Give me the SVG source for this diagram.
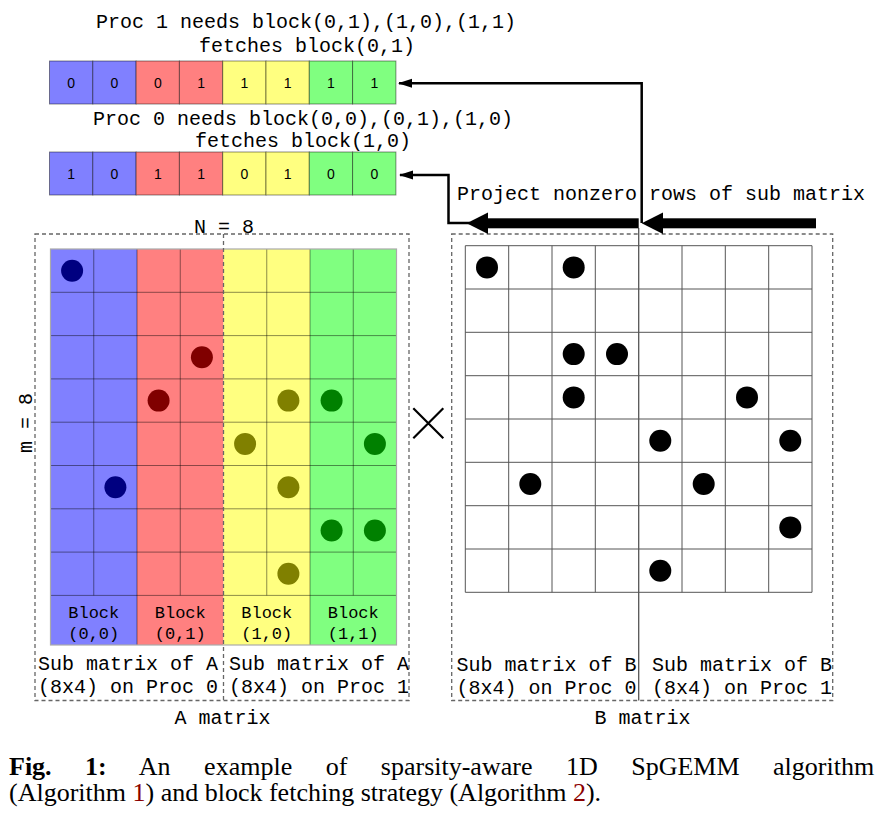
<svg xmlns="http://www.w3.org/2000/svg" width="895" height="838" viewBox="0 0 895 838">
<style>
.mono{font-family:"Liberation Mono","Courier New",monospace;font-size:20px;fill:#000}
.blk{font-family:"Liberation Mono","Courier New",monospace;font-size:17px;fill:#000;text-anchor:middle}
.dig{font-family:"Liberation Sans",Arial,sans-serif;font-size:14px;fill:#000;text-anchor:middle}
.cap{font-family:"Liberation Serif","Times New Roman",serif;font-size:26px;fill:#000}
.cell{stroke:rgba(0,0,0,0.45);stroke-width:1}
.gl{stroke:rgba(0,0,0,0.45);stroke-width:1;fill:none}
.bg{stroke:#555;stroke-width:1;fill:none}
.dash{fill:none;stroke:#666;stroke-width:1.3;stroke-dasharray:4 3}
.thin{fill:none;stroke:#000;stroke-width:2.5}
.blue{fill:#8080ff}.red{fill:#ff8080}.yel{fill:#ffff80}.grn{fill:#80ff80}
.rl{fill:#8b0000}
</style>
<defs>
<marker id="ah" markerWidth="14" markerHeight="10" refX="13" refY="5" orient="auto" markerUnits="userSpaceOnUse">
<polygon points="0,0.5 14,5 0,9.5" fill="#000"/>
</marker>
</defs>

<g id="proc1-array">
<text class="mono" x="306" y="28" text-anchor="middle">Proc 1 needs block(0,1),(1,0),(1,1)</text>
<text class="mono" x="307" y="51.5" text-anchor="middle">fetches block(0,1)</text>
<rect class="blue cell" x="49.5" y="61" width="43.3" height="43"/>
<rect class="blue cell" x="92.8" y="61" width="43.3" height="43"/>
<rect class="red cell" x="136.1" y="61" width="43.3" height="43"/>
<rect class="red cell" x="179.4" y="61" width="43.3" height="43"/>
<rect class="yel cell" x="222.7" y="61" width="43.3" height="43"/>
<rect class="yel cell" x="266" y="61" width="43.3" height="43"/>
<rect class="grn cell" x="309.3" y="61" width="43.3" height="43"/>
<rect class="grn cell" x="352.6" y="61" width="43.3" height="43"/>
<text class="dig" x="71.2" y="88">0</text>
<text class="dig" x="114.5" y="88">0</text>
<text class="dig" x="157.8" y="88">0</text>
<text class="dig" x="201.1" y="88">1</text>
<text class="dig" x="244.4" y="88">1</text>
<text class="dig" x="287.7" y="88">1</text>
<text class="dig" x="331" y="88">1</text>
<text class="dig" x="374.3" y="88">1</text>
</g>

<g id="proc0-array">
<text class="mono" x="303" y="125" text-anchor="middle">Proc 0 needs block(0,0),(0,1),(1,0)</text>
<text class="mono" x="303" y="147" text-anchor="middle">fetches block(1,0)</text>
<rect class="blue cell" x="49.5" y="152" width="43.3" height="43"/>
<rect class="blue cell" x="92.8" y="152" width="43.3" height="43"/>
<rect class="red cell" x="136.1" y="152" width="43.3" height="43"/>
<rect class="red cell" x="179.4" y="152" width="43.3" height="43"/>
<rect class="yel cell" x="222.7" y="152" width="43.3" height="43"/>
<rect class="yel cell" x="266" y="152" width="43.3" height="43"/>
<rect class="grn cell" x="309.3" y="152" width="43.3" height="43"/>
<rect class="grn cell" x="352.6" y="152" width="43.3" height="43"/>
<text class="dig" x="71.2" y="179">1</text>
<text class="dig" x="114.5" y="179">0</text>
<text class="dig" x="157.8" y="179">1</text>
<text class="dig" x="201.1" y="179">1</text>
<text class="dig" x="244.4" y="179">0</text>
<text class="dig" x="287.7" y="179">1</text>
<text class="dig" x="331" y="179">0</text>
<text class="dig" x="374.3" y="179">0</text>
</g>

<g id="A-matrix">
<rect class="blue" x="50.5" y="249" width="86.5" height="396"/>
<rect class="red" x="137" y="249" width="86.5" height="396"/>
<rect class="yel" x="223.5" y="249" width="86.5" height="396"/>
<rect class="grn" x="310" y="249" width="86.5" height="396"/>
<path class="gl" d="M93.75,249V595.4M180.25,249V595.4M266.75,249V595.4M353.25,249V595.4M137,249V645M310,249V645M50.5,292.3H396.5M50.5,335.6H396.5M50.5,378.9H396.5M50.5,422.2H396.5M50.5,465.5H396.5M50.5,508.8H396.5M50.5,552.1H396.5M50.5,595.4H396.5"/>
<rect x="50.5" y="249" width="346" height="396" fill="none" stroke="#aaa" stroke-width="1.2"/>
<circle cx="72.1" cy="270.7" r="11" fill="#000080"/>
<circle cx="115.4" cy="487.2" r="11" fill="#000080"/>
<circle cx="201.9" cy="357.3" r="11" fill="#800000"/>
<circle cx="158.6" cy="400.6" r="11" fill="#800000"/>
<circle cx="288.4" cy="400.6" r="11" fill="#808000"/>
<circle cx="245.1" cy="443.9" r="11" fill="#808000"/>
<circle cx="288.4" cy="487.2" r="11" fill="#808000"/>
<circle cx="288.4" cy="573.8" r="11" fill="#808000"/>
<circle cx="331.6" cy="400.6" r="11" fill="#008000"/>
<circle cx="374.9" cy="443.9" r="11" fill="#008000"/>
<circle cx="331.6" cy="530.5" r="11" fill="#008000"/>
<circle cx="374.9" cy="530.5" r="11" fill="#008000"/>
<text class="blk" x="93.75" y="618">Block</text>
<text class="blk" x="93.75" y="639">(0,0)</text>
<text class="blk" x="180.25" y="618">Block</text>
<text class="blk" x="180.25" y="639">(0,1)</text>
<text class="blk" x="266.75" y="618">Block</text>
<text class="blk" x="266.75" y="639">(1,0)</text>
<text class="blk" x="353.25" y="618">Block</text>
<text class="blk" x="353.25" y="639">(1,1)</text>
<rect class="dash" x="35" y="234" width="374" height="466.5"/>
<line class="dash" x1="223.5" y1="234" x2="223.5" y2="700.5"/>
<text class="mono" x="224" y="233" text-anchor="middle">N = 8</text>
<text class="mono" transform="translate(32,423) rotate(-90)" text-anchor="middle">m = 8</text>
<text class="mono" x="38" y="670">Sub matrix of A</text>
<text class="mono" x="38" y="693">(8x4) on Proc 0</text>
<text class="mono" x="229" y="670">Sub matrix of A</text>
<text class="mono" x="229" y="693">(8x4) on Proc 1</text>
<text class="mono" x="222.5" y="724" text-anchor="middle">A matrix</text>
</g>

<g id="times">
<path d="M413.3,408.3L443.3,438.3M443.3,408.3L413.3,438.3" stroke="#000" stroke-width="2.2" fill="none"/>
</g>

<g id="B-matrix">
<rect x="465.3" y="245.7" width="346.7" height="346.6" fill="#fff"/>
<path class="bg" d="M465.3,245.7V592.3M508.7,245.7V592.3M552,245.7V592.3M595.3,245.7V592.3M682,245.7V592.3M725.3,245.7V592.3M768.7,245.7V592.3M812,245.7V592.3M465.3,245.7H812M465.3,289H812M465.3,332.3H812M465.3,375.7H812M465.3,419H812M465.3,462.3H812M465.3,505.7H812M465.3,549H812M465.3,592.3H812"/>
<circle cx="487" cy="267.4" r="11" fill="#000"/>
<circle cx="573.7" cy="267.4" r="11" fill="#000"/>
<circle cx="573.7" cy="354.1" r="11" fill="#000"/>
<circle cx="617" cy="354.1" r="11" fill="#000"/>
<circle cx="573.7" cy="397.4" r="11" fill="#000"/>
<circle cx="747" cy="397.4" r="11" fill="#000"/>
<circle cx="660.3" cy="440.7" r="11" fill="#000"/>
<circle cx="790.3" cy="440.7" r="11" fill="#000"/>
<circle cx="530.3" cy="484" r="11" fill="#000"/>
<circle cx="703.7" cy="484" r="11" fill="#000"/>
<circle cx="790.3" cy="527.4" r="11" fill="#000"/>
<circle cx="660.3" cy="570.7" r="11" fill="#000"/>
<rect class="dash" x="451.7" y="234" width="381" height="466.5"/>
<line x1="638.7" y1="228" x2="638.7" y2="700.5" stroke="#555" stroke-width="1.3"/>
<text class="mono" x="456.5" y="671">Sub matrix of B</text>
<text class="mono" x="456.5" y="694">(8x4) on Proc 0</text>
<text class="mono" x="652" y="671">Sub matrix of B</text>
<text class="mono" x="652" y="694">(8x4) on Proc 1</text>
<text class="mono" x="642.5" y="724" text-anchor="middle">B matrix</text>
</g>

<g id="connectors">
<text class="mono" x="457" y="200">Project nonzero rows of sub matrix</text>
<path class="thin" d="M641.7,223V83.3H399" marker-end="url(#ah)"/>
<path class="thin" d="M470,223H448.5V175H400" marker-end="url(#ah)"/>
<rect x="486" y="218.3" width="152.7" height="10" fill="#000"/>
<polygon points="466.7,223.3 488,212.5 488,234" fill="#000"/>
<rect x="661" y="218.3" width="155" height="10" fill="#000"/>
<polygon points="641.7,223.3 663,212.5 663,234" fill="#000"/>
</g>

<g id="caption">
<text class="cap" x="9" y="775" word-spacing="27"><tspan font-weight="bold">Fig. 1:</tspan> An example of sparsity-aware 1D SpGEMM algorithm</text>
<text class="cap" x="9" y="801">(Algorithm <tspan class="rl">1</tspan>) and block fetching strategy (Algorithm <tspan class="rl">2</tspan>).</text>
</g>
</svg>
